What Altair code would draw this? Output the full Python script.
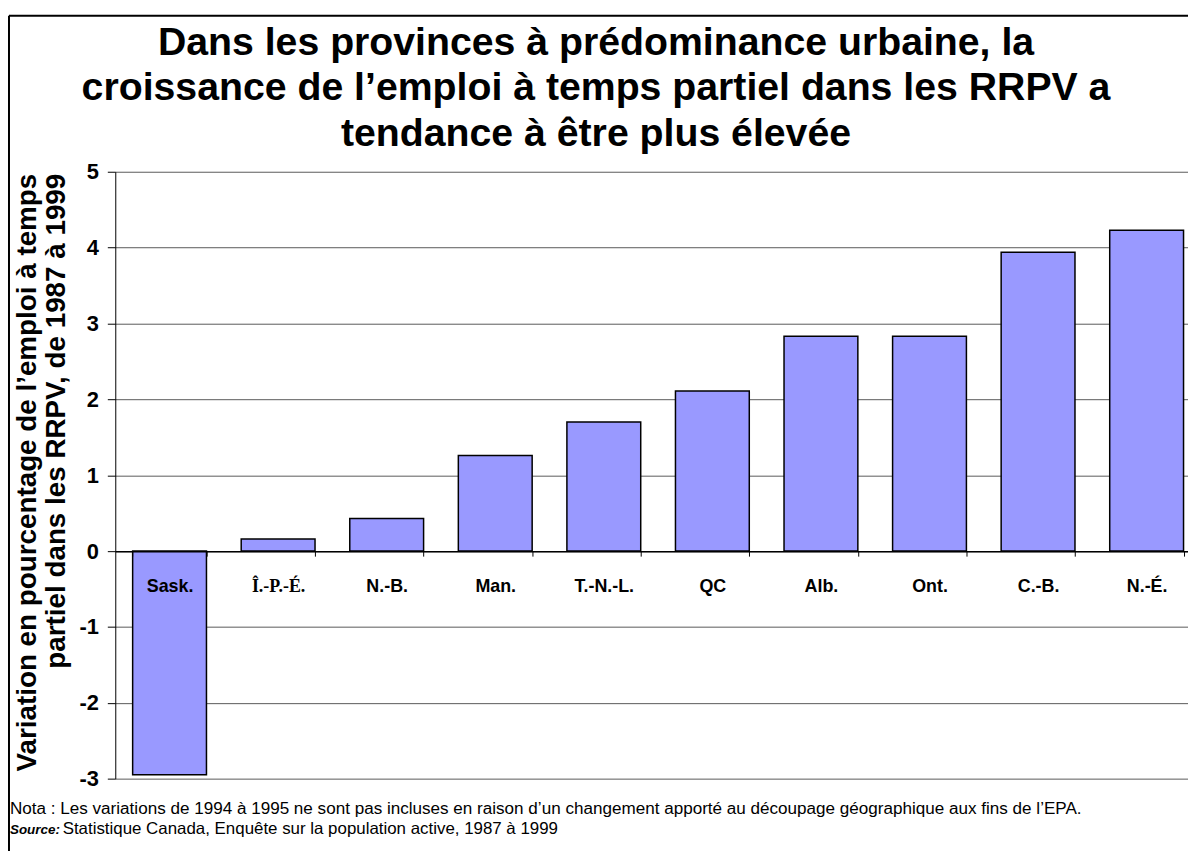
import altair as alt
import pandas as pd

provinces = ["Sask.", "Î.-P.-É.", "N.-B.", "Man.", "T.-N.-L.", "QC", "Alb.", "Ont.", "C.-B.", "N.-É."]
values = [-2.95, 0.16, 0.43, 1.26, 1.70, 2.11, 2.83, 2.83, 3.94, 4.23]
y_ticks = [-3, -2, -1, 0, 1, 2, 3, 4, 5]

title_lines = [
    "Dans les provinces à prédominance urbaine, la",
    "croissance de l’emploi à temps partiel dans les RRPV a",
    "tendance à être plus élevée",
]
y_title_lines = [
    "Variation en pourcentage de l’emploi à temps",
    "partiel dans les RRPV, de 1987 à 1999",
]
note_text = ("Nota : Les variations de 1994 à 1995 ne sont pas incluses en raison d’un "
             "changement apporté au découpage géographique aux fins de l’EPA.")
source_label = "Source:"
source_text = "Statistique Canada, Enquête sur la population active, 1987 à 1999"

FONT = "Liberation Sans"

df = pd.DataFrame({"province": provinces, "value": values})
one = pd.DataFrame({"k": [0]})

x_enc = alt.X(
    "province:N", sort=None, title=None,
    scale=alt.Scale(paddingInner=0.32, paddingOuter=0.16, range=[0, 1093]),
    axis=alt.Axis(
        orient="bottom", offset=-229, domainColor="black", domainWidth=1.5,
        tickColor="black", tickSize=5, tickBand="extent", labelAngle=0,
        labelFontSize=18, labelFontWeight="bold", labelColor="black",
        labelFont={"condition": {"test": "datum.value == 'Î.-P.-É.'", "value": "Liberation Serif"}, "value": FONT},
        labelPadding=22, labelBaseline="top", zindex=1,
    ),
)
y_enc = alt.Y(
    "value:Q", title=None,
    scale=alt.Scale(domain=[-3, 5], nice=False, zero=False),
    axis=alt.Axis(
        values=y_ticks, labelExpr="toString(datum.value)", labelFontSize=22,
        labelFontWeight="bold", labelFont=FONT, labelColor="black", labelPadding=9,
        tickSize=8, tickColor="black", domainColor="black",
        gridColor="#5a5a5a", gridWidth=1,
    ),
)

bars = alt.Chart(df).mark_bar(color="#9999FF", stroke="black", strokeWidth=1.5).encode(x=x_enc, y=y_enc)

title = alt.Chart(one).mark_text(
    text=title_lines, align="center", baseline="alphabetic", fontSize=39.5,
    fontWeight="bold", font=FONT, lineHeight=46, color="black",
).encode(x=alt.value(484), y=alt.value(-118))

ytitle = alt.Chart(one).mark_text(
    text=y_title_lines, angle=270, align="right", baseline="alphabetic",
    fontSize=28, fontWeight="bold", font=FONT, lineHeight=29, color="black",
).encode(x=alt.value(-80), y=alt.value(2))

note = alt.Chart(one).mark_text(
    text=note_text, align="left", baseline="alphabetic", fontSize=17.2, font=FONT, color="black",
).encode(x=alt.value(-106), y=alt.value(647))

src_lbl = alt.Chart(one).mark_text(
    text=source_label, align="left", baseline="alphabetic", fontSize=13.5, font=FONT,
    fontWeight="bold", fontStyle="italic", color="black",
).encode(x=alt.value(-106), y=alt.value(667))

src_txt = alt.Chart(one).mark_text(
    text=source_text, align="left", baseline="alphabetic", fontSize=17, font=FONT, color="black",
).encode(x=alt.value(-53), y=alt.value(667))

frame_top = alt.Chart(one).mark_rule(color="black", strokeWidth=2).encode(
    x=alt.value(-107), x2=alt.value(1090), y=alt.value(-157))
frame_left = alt.Chart(one).mark_rule(color="black", strokeWidth=2).encode(
    x=alt.value(-107), y=alt.value(-157), y2=alt.value(700))

chart = alt.layer(bars, title, ytitle, note, src_lbl, src_txt, frame_top, frame_left).properties(
    width=1078, height=611,
    padding={"left": 108, "top": 162, "right": 2, "bottom": 70},
    autosize=alt.AutoSizeParams(type="none"),
).configure_view(stroke=None)

chart.save("out.html", embed_options={"renderer": "svg", "actions": False})
